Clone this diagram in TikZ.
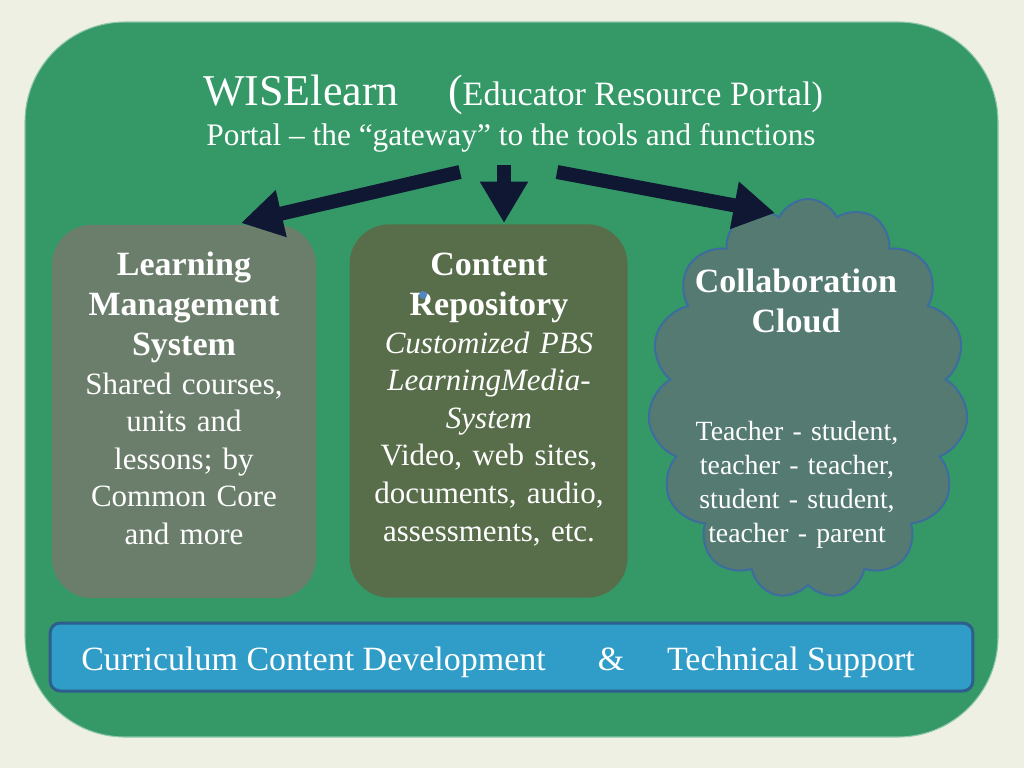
\documentclass[tikz,border=0pt]{standalone}
\usepackage{fontspec}
\setmainfont{Liberation Serif}
\usetikzlibrary{shapes.symbols, arrows.meta, positioning}
\definecolor{paper}{HTML}{EEF0E3}
\definecolor{panelgreen}{HTML}{349966}
\definecolor{lmsgray}{HTML}{6B7E6B}
\definecolor{repogreen}{HTML}{586D4A}
\definecolor{cloudfill}{HTML}{547A72}
\definecolor{cloudline}{HTML}{3D6C9E}
\definecolor{barfill}{HTML}{2F9DC8}
\definecolor{barline}{HTML}{2D5E8E}
\definecolor{navy}{HTML}{0F1733}
\definecolor{dotblue}{HTML}{4F86C6}

\begin{document}
\begin{tikzpicture}[x=0.75pt,y=-0.75pt,
		panel/.style={fill=panelgreen, draw=panelgreen!55!white, line width=0.8pt, rounded corners=75pt, minimum width=729.75pt, minimum height=536.25pt, inner sep=0pt},
		box/.style={rounded corners=30pt, minimum height=280pt, inner sep=0pt},
		puff/.style={cloud, cloud puffs=15, cloud puff arc=130, cloud ignores aspect, fill=cloudfill, draw=cloudline, line width=1.5pt, minimum width=240pt, minimum height=300pt, inner sep=0pt},
		bar/.style={fill=barfill, draw=barline, line width=2.25pt, rounded corners=7.5pt, minimum width=692pt, minimum height=51pt, inner sep=0pt},
		head/.style={text=white, font=\bfseries\fontsize{25.5}{30}\selectfont, align=center, text width=190pt, inner sep=0pt, anchor=base},
		body/.style={text=white, font=\fontsize{23.25}{28.2}\selectfont, align=center, text width=200pt, inner sep=0pt, anchor=base},
		bigarrow/.style={navy, line width=10.5pt, -{Triangle[length=31pt, width=34pt]}}]
	\useasboundingbox[fill=paper] (0,0) rectangle (1024,768);
	\node[panel] (panel) at (511.5,379.5) {};

	% title
	\node[text=white, anchor=base west, inner sep=0pt] (title) at (203,105)
		{{\fontsize{33}{40}\selectfont WISElearn\hspace{37pt}(}{\fontsize{25.6}{30}\selectfont Educator Resource Portal)}};
	\node[text=white, anchor=base, inner sep=0pt, font=\fontsize{23.5}{28}\selectfont] (subtitle) at (511,145)
		{Portal -- the ``gateway'' to the tools and functions};

	% three parts
	\node[box, fill=lmsgray, minimum width=198pt] (lms) at (184,411.5) {};
	\node[box, fill=repogreen, minimum width=208.5pt] (repo) at (488.5,411) {};
	\node[puff] (collab) at (808,399) {};

	\node[head] (lmshead) at (184,275) {Learning\\Management\\System};
	\node[body] (lmsbody) at (184,394) {Shared courses,\\units and\\lessons; by\\Common Core\\and more};

	\node[head] (repohead) at (489,275) {Content\\Repository};
	\node[body] (repobody) at (489,353) {{\itshape Customized PBS}\\{\itshape LearningMedia-}\\{\itshape System}\\Video, web sites,\\documents, audio,\\assessments, etc.};
	\fill[dotblue] (423,295) circle[radius=3pt];

	\node[head, text width=200pt] (collabhead) at (796,292) {Collaboration\\Cloud};
	\node[body, font=\fontsize{20.85}{25.5}\selectfont] (collabbody) at (797,440) {Teacher - student,\\teacher - teacher,\\student - student,\\teacher - parent};

	% bottom bar
	\node[bar] (support) at (511.5,657) {};
	\node[text=white, anchor=base west, inner sep=0pt, font=\fontsize{25.5}{30}\selectfont] (supporttext) at (81,670)
		{Curriculum Content Development\hspace{39pt}\&\hspace{32pt}Technical Support};

	% arrows
	\coordinate (gl) at (460,172);
	\coordinate (tl) at (241,223);
	\coordinate (gm) at (504,165);
	\coordinate (tm) at (504,223);
	\coordinate (gr) at (557,172);
	\coordinate (tr) at (775,213);
	\draw[bigarrow] (gl) -- (tl);
	\draw[bigarrow] (gm) -- (tm);
	\draw[bigarrow] (gr) -- (tr);
\end{tikzpicture}
\end{document}
